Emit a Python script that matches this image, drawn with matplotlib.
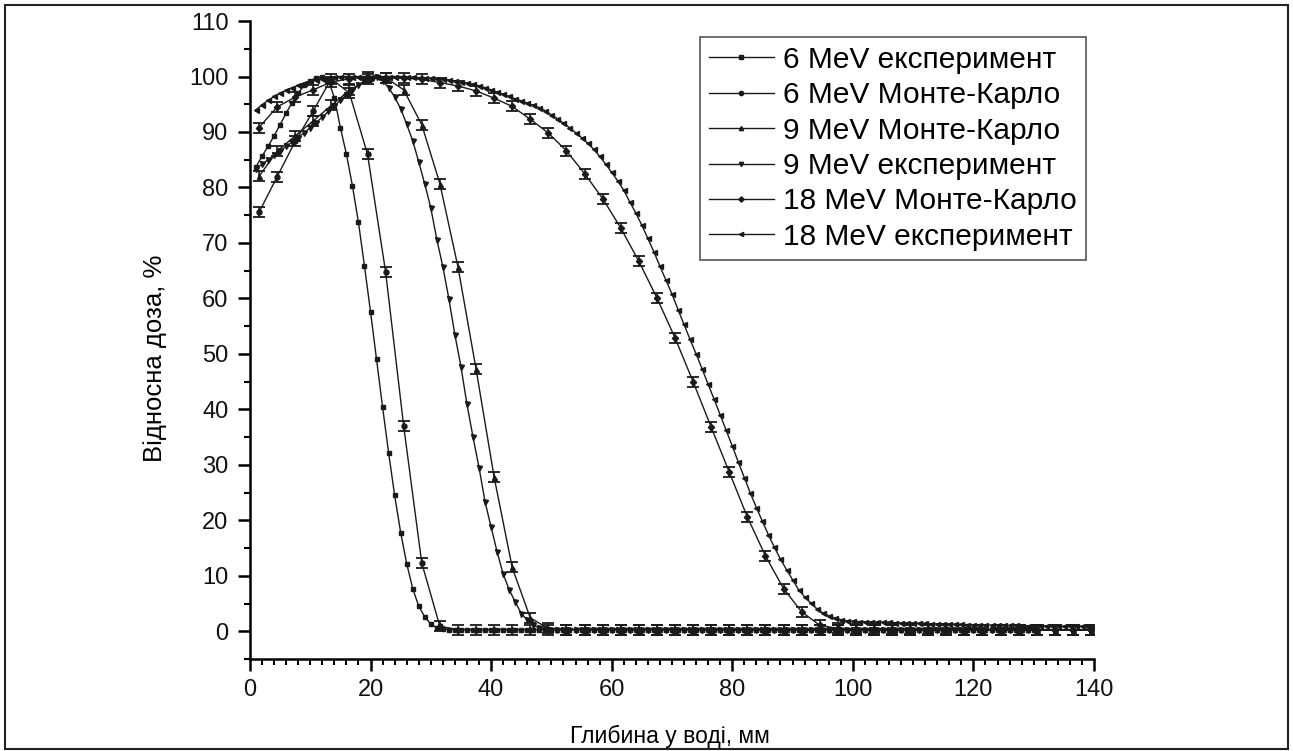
import numpy as np
import matplotlib
matplotlib.use("Agg")
import matplotlib.pyplot as plt
from matplotlib.ticker import MultipleLocator
from matplotlib.patches import Rectangle

plt.rcParams['font.family'] = ['Liberation Sans', 'DejaVu Sans']

# experiment curves, 1 mm step
x6_exp = np.arange(1, 131)
dose6_exp = [
    83.7, 85.6, 87.4, 89.3, 91.3, 93.4, 95.3, 97.0, 98.4, 99.2,
    99.8, 100.0, 99.3, 96.2, 90.8, 86.0, 80.3, 73.7, 65.8, 57.6,
    49.0, 40.4, 32.2, 24.5, 17.8, 12.2, 7.7, 4.5, 2.6, 1.3,
    0.6, 0.4, 0.3, 0.3, 0.3, 0.3, 0.3, 0.3, 0.3, 0.3,
    0.3, 0.3, 0.3, 0.3, 0.3, 0.3, 0.3, 0.3, 0.3, 0.3,
    0.3, 0.3, 0.3, 0.3, 0.3, 0.3, 0.3, 0.3, 0.3, 0.3,
    0.3, 0.3, 0.3, 0.3, 0.3, 0.3, 0.3, 0.3, 0.3, 0.3,
    0.3, 0.3, 0.3, 0.3, 0.3, 0.3, 0.3, 0.3, 0.3, 0.3,
    0.2, 0.2, 0.2, 0.2, 0.2, 0.2, 0.2, 0.2, 0.2, 0.2,
    0.2, 0.2, 0.2, 0.2, 0.2, 0.2, 0.2, 0.2, 0.2, 0.2,
    0.2, 0.2, 0.2, 0.2, 0.2, 0.2, 0.2, 0.2, 0.2, 0.2,
    0.2, 0.2, 0.2, 0.2, 0.2, 0.2, 0.2, 0.2, 0.2, 0.2,
    0.2, 0.2, 0.2, 0.2, 0.2, 0.2, 0.2, 0.2, 0.2, 0.2,
]

x9_exp = np.arange(1, 131)
dose9_exp = [
    83.4, 84.2, 85.0, 85.8, 86.6, 87.4, 88.2, 89.0, 89.9, 90.8,
    91.7, 92.7, 93.7, 94.7, 95.7, 96.7, 97.6, 98.4, 99.1, 99.6,
    100.0, 99.2, 98.0, 96.3, 94.2, 91.4, 88.4, 84.6, 80.6, 76.3,
    70.6, 65.7, 59.9, 53.4, 47.7, 40.9, 35.0, 29.5, 23.3, 18.8,
    14.3, 10.3, 7.5, 5.3, 3.2, 2.0, 1.1, 0.6, 0.4, 0.3,
    0.3, 0.3, 0.3, 0.3, 0.3, 0.3, 0.3, 0.3, 0.3, 0.3,
    0.3, 0.3, 0.3, 0.3, 0.3, 0.3, 0.3, 0.3, 0.3, 0.3,
    0.3, 0.3, 0.3, 0.3, 0.3, 0.3, 0.3, 0.3, 0.3, 0.3,
    0.2, 0.2, 0.2, 0.2, 0.2, 0.2, 0.2, 0.2, 0.2, 0.2,
    0.2, 0.2, 0.2, 0.2, 0.2, 0.2, 0.2, 0.2, 0.2, 0.2,
    0.2, 0.2, 0.2, 0.2, 0.2, 0.2, 0.2, 0.2, 0.2, 0.2,
    0.2, 0.2, 0.2, 0.2, 0.2, 0.2, 0.2, 0.2, 0.2, 0.2,
    0.2, 0.2, 0.2, 0.2, 0.2, 0.2, 0.2, 0.2, 0.2, 0.2,
]

x18_exp = np.arange(1, 141)
dose18_exp = [
    94.0, 94.9, 95.7, 96.4, 97.0, 97.5, 98.0, 98.4, 98.8, 99.1,
    99.4, 99.6, 99.8, 99.9, 100.0, 100.0, 100.0, 100.0, 100.0, 100.0,
    100.0, 100.0, 100.0, 100.0, 100.0, 99.9, 99.9, 99.8, 99.8, 99.7,
    99.6, 99.5, 99.4, 99.2, 99.0, 98.8, 98.6, 98.3, 98.0, 97.6,
    97.2, 96.8, 96.4, 96.0, 95.6, 95.2, 94.8, 94.4, 93.8, 93.1,
    92.4, 91.6, 90.8, 89.9, 89.0, 88.0, 86.9, 85.6, 84.2, 82.7,
    81.2, 79.5, 77.4, 75.4, 73.2, 70.8, 68.4, 65.8, 63.3, 60.8,
    58.0, 55.3, 52.6, 50.0, 47.3, 44.5, 41.8, 39.0, 36.2, 33.4,
    30.5, 27.7, 24.9, 22.3, 19.8, 17.4, 15.1, 13.0, 11.1, 9.3,
    7.5, 6.2, 5.1, 4.1, 3.3, 2.8, 2.4, 2.1, 1.9, 1.8,
    1.75, 1.7, 1.7, 1.65, 1.6, 1.6, 1.55, 1.5, 1.5, 1.45,
    1.4, 1.4, 1.35, 1.35, 1.3, 1.3, 1.25, 1.25, 1.2, 1.2,
    1.15, 1.15, 1.1, 1.1, 1.1, 1.05, 1.05, 1.0, 1.0, 1.0,
    1.0, 0.95, 0.95, 0.95, 0.9, 0.9, 0.9, 0.9, 0.85, 0.85,
]

# Monte-Carlo curves, 3 mm bins
x_mc = np.arange(1.5, 140, 3)
dose6_mc = [
    75.5, 81.9, 88.3, 93.8, 99.6, 97.0, 86.0, 64.8, 37.0, 12.3,
    0.9, 0.3, 0.3, 0.3, 0.3, 0.3, 0.3, 0.3, 0.3, 0.3,
    0.3, 0.3, 0.3, 0.3, 0.3, 0.2, 0.2, 0.2, 0.2, 0.2,
    0.2, 0.2, 0.2, 0.2, 0.2, 0.2, 0.2, 0.2, 0.2, 0.2,
    0.2, 0.2, 0.2, 0.2, 0.2, 0.2, 0.2,
]
dose9_mc = [
    82.0, 86.5, 89.3, 92.0, 94.8, 97.5, 99.5, 99.8, 97.6, 91.3,
    80.7, 65.7, 47.3, 27.8, 11.5, 2.4, 0.5, 0.3, 0.3, 0.3,
    0.3, 0.3, 0.3, 0.3, 0.3, 0.3, 0.3, 0.3, 0.2, 0.2,
    0.2, 0.2, 0.2, 0.2, 0.2, 0.2, 0.2, 0.2, 0.2, 0.2,
    0.2, 0.2, 0.2, 0.2, 0.2, 0.2, 0.2,
]
dose18_mc = [
    90.8, 94.5, 96.3, 97.6, 99.0, 99.6, 100.0, 99.8, 99.7, 99.5,
    98.9, 98.3, 97.4, 96.1, 94.6, 92.3, 89.8, 86.6, 82.5, 78.0,
    72.7, 66.7, 60.1, 52.9, 45.0, 36.8, 28.7, 20.6, 13.6, 7.7,
    3.5, 1.1, 0.5, 0.4, 0.4, 0.4, 0.4, 0.4, 0.4, 0.3,
    0.3, 0.3, 0.3, 0.3, 0.3, 0.3, 0.3,
]
mc_err = 0.9

fig = plt.figure(figsize=(12.93, 7.51), dpi=100)
ax = fig.add_axes([0.1933, 0.1225, 0.6528, 0.8495])

c = '#1a1a1a'
lw = 1.0

series = [
    ("6 MeV експеримент", x6_exp, dose6_exp, 's', 3.0, None),
    ("6 MeV Монте-Карло", x_mc, dose6_mc, 'o', 3.6, mc_err),
    ("9 MeV Монте-Карло", x_mc, dose9_mc, '^', 3.6, mc_err),
    ("9 MeV експеримент", x9_exp, dose9_exp, 'v', 3.6, None),
    ("18 MeV Монте-Карло", x_mc, dose18_mc, 'D', 3.2, mc_err),
    ("18 MeV експеримент", x18_exp, dose18_exp, '<', 3.6, None),
]

for label, xs, ys, m, ms, err in series:
    ax.plot(xs, ys, color=c, lw=lw, marker=m, ms=ms, mec=c, mfc=c, label=label)
    if err is not None:
        ax.errorbar(xs, ys, yerr=err, fmt='none', ecolor=c, elinewidth=1.2,
                    capsize=4.5, capthick=1.3)

ax.set_xlim(0, 140)
ax.set_ylim(-5, 110)
ax.xaxis.set_major_locator(MultipleLocator(20))
ax.xaxis.set_minor_locator(MultipleLocator(2))
ax.yaxis.set_major_locator(MultipleLocator(10))
ax.yaxis.set_minor_locator(MultipleLocator(5))
ax.set_yticks(np.arange(0, 111, 10))

for s in ['top', 'right']:
    ax.spines[s].set_visible(False)
for s in ['left', 'bottom']:
    ax.spines[s].set_linewidth(1.8)
ax.tick_params(which='major', direction='out', length=8.5, width=1.8,
               labelsize=17, labelcolor='#111')
ax.tick_params(which='minor', direction='out', length=4.5, width=1.5)
ax.tick_params(axis='y', which='major', pad=7)
ax.tick_params(axis='x', which='major', pad=6)

ax.set_xlabel("Глибина у воді, мм", fontsize=16.5)
ax.xaxis.set_label_coords(0.498, -0.1034)
ax.set_ylabel("Відносна доза, %", fontsize=18.5)
ax.yaxis.set_label_coords(-0.098, 0.472)

leg = ax.legend(loc='upper right', bbox_to_anchor=(0.9905, 0.9755), fontsize=21.5,
                frameon=True, fancybox=False, edgecolor='#555', framealpha=1,
                handlelength=2.2, handletextpad=0.3, labelspacing=0.25,
                borderpad=0.3, borderaxespad=0.0, markerscale=0.85)
leg.get_frame().set_linewidth(1.2)

fig.patches.append(Rectangle((0.004, 0.002), 0.992, 0.991, transform=fig.transFigure,
                             fill=False, edgecolor='#222', lw=1.5))

fig.savefig("out.png", dpi=100)
